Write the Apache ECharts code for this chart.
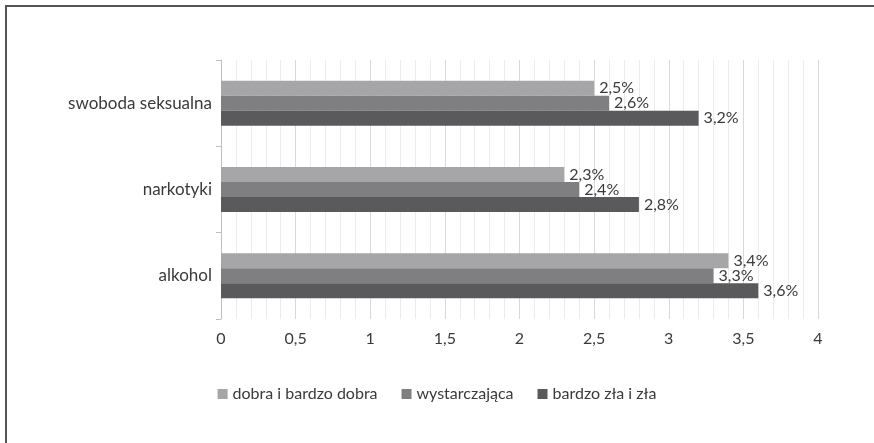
<!DOCTYPE html>
<html>
<head>
<meta charset="utf-8">
<script src="https://cdn.jsdelivr.net/npm/echarts@6/dist/echarts.min.js"></script>
<style>
  html, body { margin: 0; padding: 0; background: #fff; }
  #chart { width: 874px; height: 443px; }
</style>
</head>
<body>
<div id="chart"></div>
<script>
    // dane
    var categories = ['alkohol', 'narkotyki', 'swoboda seksualna'];
    var seriesNames = ['dobra i bardzo dobra', 'wystarczająca', 'bardzo zła i zła'];
    var dobra = [3.4, 2.3, 2.5];
    var wystarczajaca = [3.3, 2.4, 2.6];
    var zla = [3.6, 2.8, 3.2];
    var xTicks = ['0', '0,5', '1', '1,5', '2', '2,5', '3', '3,5', '4'];

    var myChart = echarts.init(document.getElementById('chart'));

    var font = 'Lato, "Open Sans", sans-serif';
    var textColor = '#3a3a3a';

    function barSeries(name, data, color) {
        return {
            name: name,
            type: 'bar',
            data: data,
            barWidth: 15,
            barGap: 0,
            itemStyle: { color: color },
            label: {
                show: true,
                position: 'right',
                distance: 5,
                color: textColor,
                fontSize: 16,
                fontFamily: font,
                formatter: function (p) {
                    return String(p.value).replace('.', ',') + '%';
                }
            }
        };
    }

    var option = {
        backgroundColor: '#fff',
        animation: false,
        graphic: [
            {
                type: 'polyline',
                shape: { points: [[6, 443], [6, 6], [874, 6]] },
                style: { stroke: '#555', lineWidth: 2, fill: null }
            }
        ],
        legend: {
            data: seriesNames,
            top: 381,
            left: 'center',
            itemWidth: 10,
            itemHeight: 10,
            itemGap: 24,
            icon: 'rect',
            textStyle: { color: textColor, fontSize: 16, fontFamily: font }
        },
        grid: {
            left: 221,
            right: 56,
            top: 60,
            bottom: 124
        },
        xAxis: {
            type: 'value',
            min: 0,
            max: 4,
            interval: 0.5,
            axisLine: { show: false },
            axisTick: { show: false },
            axisLabel: {
                color: textColor,
                fontSize: 16,
                fontFamily: font,
                margin: 12,
                formatter: function (v) {
                    var i = Math.round(v / 0.5);
                    return xTicks[i];
                }
            },
            splitLine: { show: true, lineStyle: { color: '#d9d9d9', width: 1 } },
            minorTick: { show: false, splitNumber: 5 },
            minorSplitLine: { show: true, lineStyle: { color: '#ececec', width: 1 } }
        },
        yAxis: {
            type: 'category',
            data: categories,
            axisLine: { show: true, lineStyle: { color: '#bfbfbf' } },
            axisTick: { show: true, length: 5, lineStyle: { color: '#bfbfbf' } },
            axisLabel: {
                color: textColor,
                fontSize: 17,
                fontFamily: font,
                margin: 9
            }
        },
        // pierwsza seria rysowana na górze każdej grupy
        series: [
            barSeries(seriesNames[0], dobra, '#a6a6a8'),
            barSeries(seriesNames[1], wystarczajaca, '#7f7f81'),
            barSeries(seriesNames[2], zla, '#5a5a5c')
        ]
    };

    myChart.setOption(option);
</script>
</body>
</html>
